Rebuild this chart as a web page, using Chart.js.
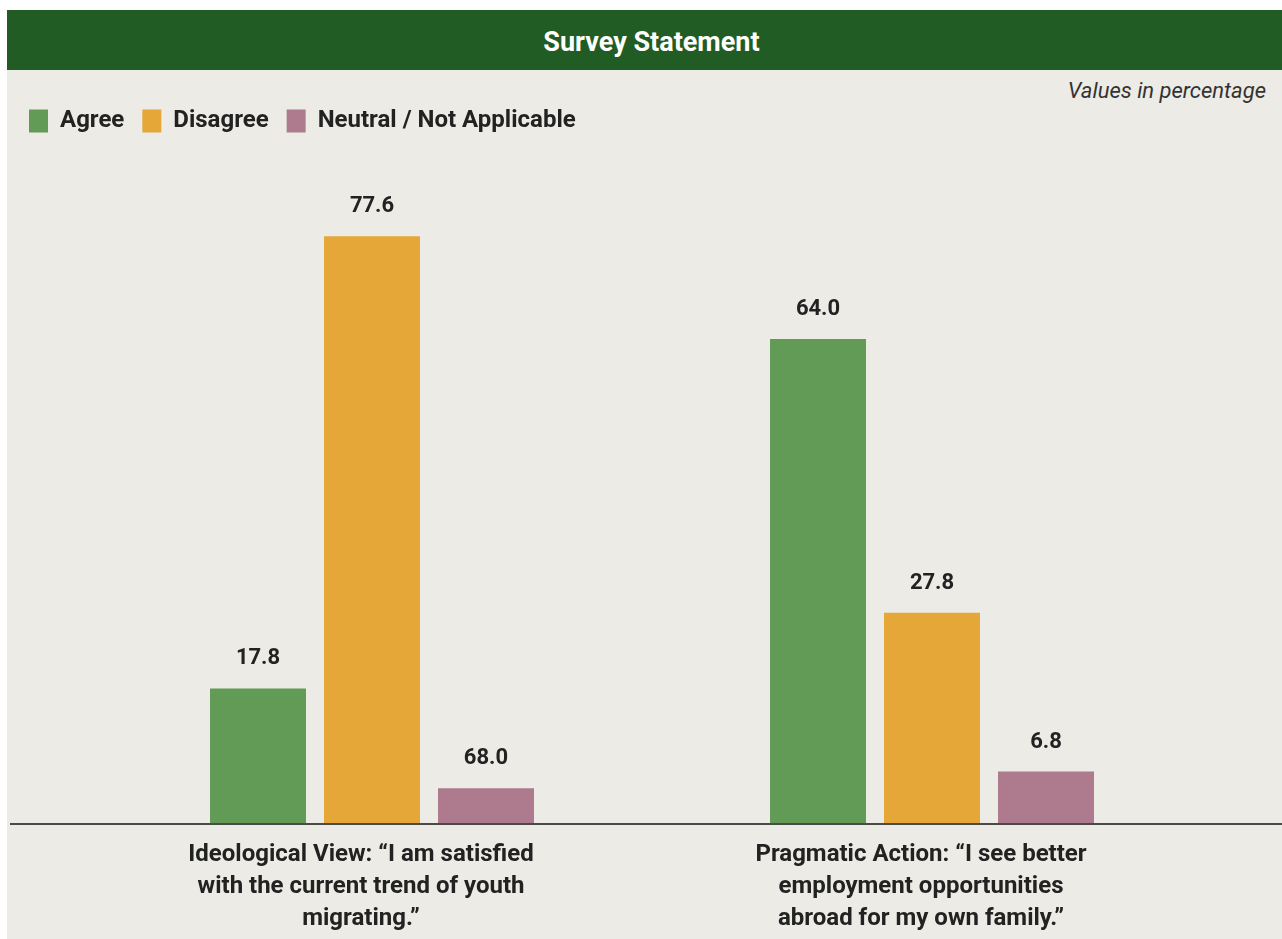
<!DOCTYPE html>
<html>
<head>
<meta charset="utf-8">
<script src="https://cdn.jsdelivr.net/npm/chart.js@4"></script>
<style>
  html, body { margin: 0; padding: 0; background: #ffffff; }
  body { width: 1282px; height: 939px; position: relative; overflow: hidden; }
  #frame { position: absolute; left: 7px; top: 10px; width: 1275px; height: 929px; background: #ecebe6; }
  #header { position: absolute; left: 0; top: 0; width: 1275px; height: 60px; background: #215c25;
    color: #ffffff; font-family: Roboto, sans-serif;
    font-weight: bold; font-size: 27px; line-height: 64px; text-align: center; text-indent: 14px; }
  #note { position: absolute; right: 16px; top: 68px; font-family: Roboto, sans-serif;
    font-style: italic; font-size: 22px; color: #333333; }
  #wrap { position: absolute; left: 0; top: 60px; width: 1275px; height: 869px; }
</style>
</head>
<body>
<div id="frame">
  <div id="header">Survey Statement</div>
  <div id="note">Values in percentage</div>
  <div id="wrap"><canvas id="c"></canvas></div>
</div>
<script>
const categories = [
  ["Ideological View: \u201cI am satisfied", "with the current trend of youth", "migrating.\u201d"],
  ["Pragmatic Action: \u201cI see better", "employment opportunities", "abroad for my own family.\u201d"]
];
const seriesNames = ["Agree", "Disagree", "Neutral / Not Applicable"];
const agree = [17.8, 64.0];
const disagree = [77.6, 27.8];
const neutral = [4.6, 6.8];
// value labels as printed in the source graphic
const agreeLabels = ["17.8", "64.0"];
const disagreeLabels = ["77.6", "27.8"];
const neutralLabels = ["68.0", "6.8"];

const colors = ["#629b56", "#e5a738", "#ad7a8e"];
const FONT = 'Roboto, sans-serif';
const valueLabels = [agreeLabels, disagreeLabels, neutralLabels];

const labelPlugin = {
  id: 'valueLabels',
  afterDatasetsDraw(chart) {
    const ctx = chart.ctx;
    ctx.save();
    ctx.font = 'bold 22px ' + FONT;
    ctx.fillStyle = '#222222';
    ctx.textAlign = 'center';
    ctx.textBaseline = 'alphabetic';
    chart.data.datasets.forEach((ds, di) => {
      const meta = chart.getDatasetMeta(di);
      meta.data.forEach((bar, i) => {
        ctx.fillText(valueLabels[di][i], bar.x, bar.y - 24);
      });
    });
    ctx.restore();
  }
};

const baselinePlugin = {
  id: 'baseline',
  afterDatasetsDraw(chart) {
    const ctx = chart.ctx;
    const y = chart.chartArea.bottom;
    ctx.save();
    ctx.strokeStyle = '#4a4a4a';
    ctx.lineWidth = 2;
    ctx.beginPath();
    ctx.moveTo(3, y + 1);
    ctx.lineTo(chart.width, y + 1);
    ctx.stroke();
    ctx.restore();
  }
};

const legendHeightPlugin = {
  id: 'legendHeight',
  beforeInit(chart) {
    const orig = chart.legend.fit;
    chart.legend.fit = function () {
      orig.call(this);
      this.height = 148 - 21;
    };
  }
};

new Chart(document.getElementById('c'), {
  type: 'bar',
  data: {
    labels: categories,
    datasets: [
      { label: seriesNames[0], data: agree, backgroundColor: colors[0] },
      { label: seriesNames[1], data: disagree, backgroundColor: colors[1] },
      { label: seriesNames[2], data: neutral, backgroundColor: colors[2] }
    ]
  },
  options: {
    responsive: true,
    maintainAspectRatio: false,
    animation: false,
    layout: { padding: { left: 4, right: 70, top: 21, bottom: 0 } },
    datasets: { bar: { categoryPercentage: 0.6107, barPercentage: 0.842, borderWidth: 0 } },
    plugins: {
      legend: {
        position: 'top',
        align: 'start',
        labels: {
          boxWidth: 19, boxHeight: 23, padding: 18,
          color: '#222222',
          font: { family: FONT, weight: 'bold', size: 24 }
        }
      },
      tooltip: { enabled: false }
    },
    scales: {
      x: {
        grid: { display: false },
        border: { display: false },
        afterFit(scale) { scale.height = 116; },
        ticks: {
          color: '#222222',
          padding: 8,
          labelOffset: -11,
          maxRotation: 0,
          autoSkip: false,
          font: { family: FONT, weight: 'bold', size: 24, lineHeight: 1.333 }
        }
      },
      y: {
        min: 0, max: 80,
        grid: { display: false },
        border: { display: false },
        ticks: { display: false },
        afterFit(scale) { scale.width = 81; }
      }
    }
  },
  plugins: [labelPlugin, baselinePlugin, legendHeightPlugin]
});
</script>
</body>
</html>
